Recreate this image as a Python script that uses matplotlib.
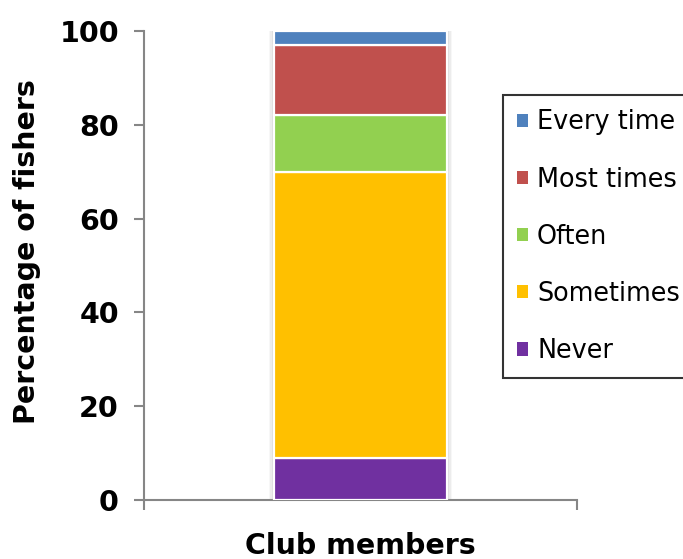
import matplotlib
matplotlib.use("Agg")
import matplotlib.pyplot as plt
from matplotlib.patches import Patch

# Survey responses of club members (percent of fishers), bottom to top
categories = ["Club members"]
responses = ["Never", "Sometimes", "Often", "Most times", "Every time"]
values = [9, 61, 12, 15, 3]
colors = ["#7030A0", "#FFC000", "#92D050", "#C0504D", "#4F81BD"]
yticks = [0, 20, 40, 60, 80, 100]

fig = plt.figure(figsize=(6.83, 5.59), dpi=100)
ax = fig.add_axes([0.2108, 0.1055, 0.634, 0.839])

bar_w = 0.4
total = sum(values)

# soft glow behind the stacked column
for pad, a in [(0.012, 0.06), (0.008, 0.09), (0.005, 0.13), (0.0025, 0.18)]:
    ax.bar(0, total, width=bar_w + 2 * pad, bottom=0, color="#7f7f7f",
           alpha=a, linewidth=0, zorder=1)

bottom = 0
handles = []
for name, v, c in zip(responses, values, colors):
    ax.bar(0, v, width=bar_w, bottom=bottom, color=c, edgecolor="white",
           linewidth=1.6, zorder=3)
    handles.append(Patch(facecolor=c, edgecolor="none", label=name))
    bottom += v

ax.set_xlim(-0.5, 0.5)
ax.set_ylim(0, 100)
ax.set_yticks(yticks)
ax.set_yticklabels([str(t) for t in yticks], fontsize=20.5, fontweight="bold")
ax.set_xticks([])
ax.set_xticks([-0.5, 0.5], minor=True)
ax.tick_params(axis="x", which="minor", direction="out", length=7, width=1.5,
               color="#868686")
ax.tick_params(axis="y", direction="out", length=7, width=1.5, color="#868686",
               pad=11)

for s in ["top", "right"]:
    ax.spines[s].set_visible(False)
for s in ["left", "bottom"]:
    ax.spines[s].set_color("#868686")
    ax.spines[s].set_linewidth(1.5)

ax.set_ylabel("Percentage of fishers", fontsize=20.5, fontweight="bold")
ax.yaxis.set_label_coords(-0.238, 0.529)
ax.set_xlabel(categories[0], fontsize=20.5, fontweight="bold")
ax.xaxis.set_label_coords(0.5, -0.068)

leg = fig.legend(handles=handles[::-1], loc="upper left",
                 bbox_to_anchor=(0.7365, 0.830), bbox_transform=fig.transFigure,
                 fontsize=18.4, frameon=True, fancybox=False, borderaxespad=0,
                 handlelength=0.42, handleheight=0.42, handletextpad=0.35,
                 labelspacing=1.22, borderpad=0.56)
leg.get_frame().set_edgecolor("black")
leg.get_frame().set_linewidth(1.5)

fig.savefig("out.png", dpi=100)
